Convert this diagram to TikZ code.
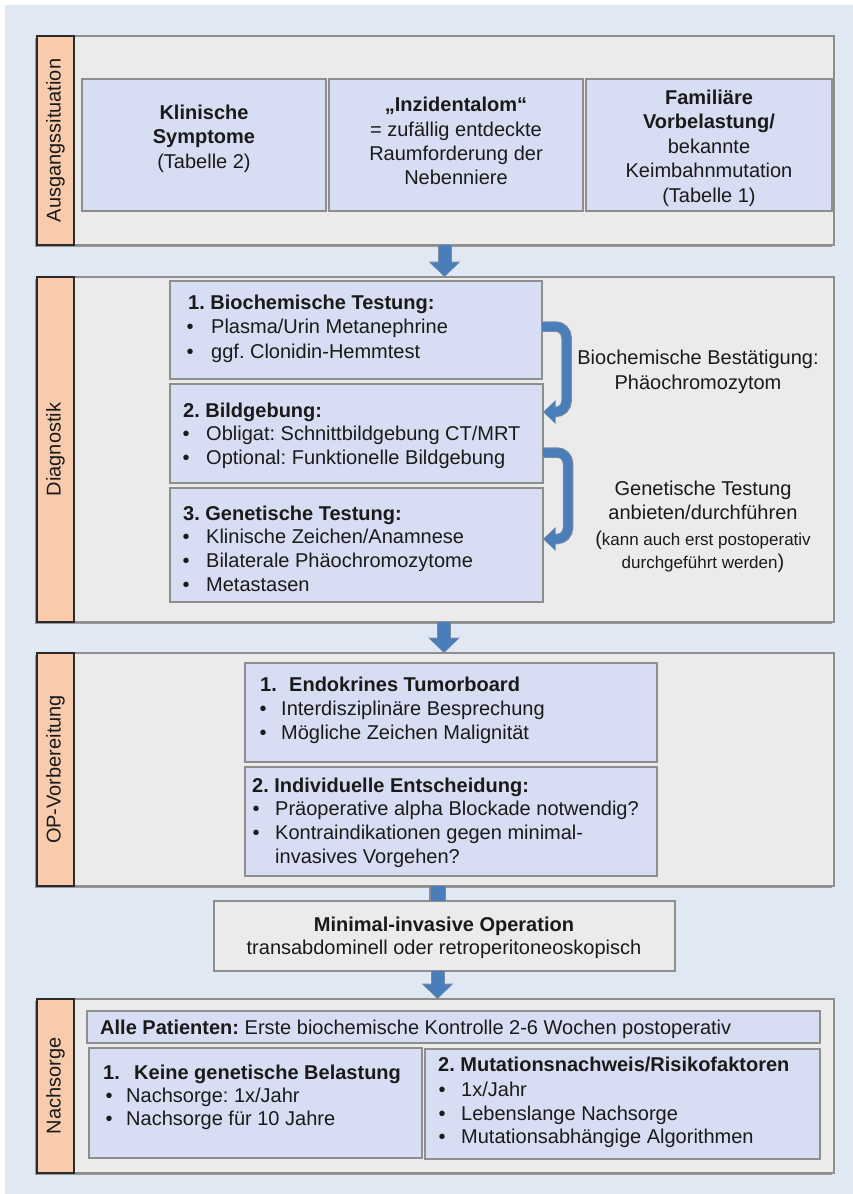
\documentclass[tikz,border=0pt]{standalone}
\usepackage{fontspec}
\setmainfont{Liberation Sans}
\usetikzlibrary{arrows.meta,calc}
\frenchspacing
\definecolor{bgblue}{HTML}{DFE8F3}
\definecolor{panelgray}{HTML}{EBEBEB}
\definecolor{panelline}{HTML}{8E8E8E}
\definecolor{shadowc}{HTML}{9A9A9A}
\definecolor{boxfill}{HTML}{D7DDF2}
\definecolor{stripfill}{HTML}{F8CBAD}
\definecolor{stripline}{HTML}{2A2A2A}
\definecolor{arrowblue}{HTML}{4A7EBB}
\definecolor{arrowedge}{HTML}{7A8CA3}
\definecolor{ink}{HTML}{1A1A1A}
\newcommand\shadedrect[6]{%
  \fill[shadowc] ({#3-2},{#4+2}) rectangle ({#5-2},{#6+2});
  \node[#2, anchor=north west, minimum width={#5-#3}, minimum height={#6-#4}] (#1) at (#3,#4) {};}
\newcommand\plainrect[6]{%
  \node[#2, anchor=north west, minimum width={#5-#3}, minimum height={#6-#4}] (#1) at (#3,#4) {};}
\newcommand\bitem[5]{%
  \node[bul] (#1b) at (#2,#4) {•};
  \node[txt] (#1) at (#3,#4) {#5};}
\begin{document}
\begin{tikzpicture}[x=1pt,y=-1pt,
  font=\fontsize{20}{24}\selectfont\frenchspacing, text=ink,
  panel/.style={fill=panelgray, draw=panelline, line width=1.3pt, inner sep=0, outer sep=0},
  strip/.style={fill=stripfill, draw=stripline, line width=1.3pt, inner sep=0, outer sep=0},
  bbox/.style={fill=boxfill, draw=panelline, line width=1.2pt, inner sep=0, outer sep=0},
  gbox/.style={fill=panelgray, draw=panelline, line width=1.2pt, inner sep=0, outer sep=0},
  txt/.style={anchor=base west, inner sep=0},
  ctxt/.style={anchor=base, inner sep=0},
  bul/.style={anchor=base, inner sep=0},
  lab/.style={rotate=90, inner sep=0},
  smalltxt/.style={anchor=base, inner sep=0, font=\fontsize{17}{20}\selectfont\frenchspacing},
  arrowunder/.style={draw=arrowedge, line width=14pt, -{Triangle[length=15.5pt,width=31pt]}},
  arrowtop/.style={draw=arrowblue, line width=12pt, shorten >=1pt, -{Triangle[length=13.5pt,width=28pt]}},
  curvunder/.style={draw=arrowedge, line width=10.5pt, rounded corners=11pt, -{Triangle[length=12.5pt,width=23pt]}},
  curvtop/.style={draw=arrowblue, line width=8.5pt, rounded corners=11pt, shorten >=1pt, -{Triangle[length=11pt,width=20.5pt]}},
  connunder/.style={draw=arrowedge, line width=16.5pt},
  conntop/.style={draw=arrowblue, line width=14pt}
]
\useasboundingbox (0,0) rectangle (853,1194);
\fill[bgblue] (5,5) rectangle (853,1194);

% ---------- Section 1 ----------
\shadedrect{P1}{panel}{37}{36}{834}{245}
\shadedrect{S1}{strip}{37}{36}{74}{245}
\node[lab] (L1) at (S1.center) {Ausgangssituation};
\plainrect{B11}{bbox}{82}{79}{326}{211}
\plainrect{B12}{bbox}{329}{79}{583}{211}
\plainrect{B13}{bbox}{586}{79}{832}{211}
\node[ctxt] (t11a) at (204,119) {\bfseries Klinische};
\node[ctxt] (t11b) at (204,143) {\bfseries Symptome};
\node[ctxt] (t11c) at (204,168) {(Tabelle 2)};
\node[ctxt] (t12a) at (456,111) {\bfseries „Inzidentalom“};
\node[ctxt] (t12b) at (456,136) {= zufällig entdeckte};
\node[ctxt] (t12c) at (456,160) {Raumforderung der};
\node[ctxt] (t12d) at (456,184) {Nebenniere};
\node[ctxt] (t13a) at (709,104) {\bfseries Familiäre};
\node[ctxt] (t13b) at (709,128) {\bfseries Vorbelastung/};
\node[ctxt] (t13c) at (709,153) {bekannte};
\node[ctxt] (t13d) at (709,177) {Keimbahnmutation};
\node[ctxt] (t13e) at (709,202) {(Tabelle 1)};

% ---------- Section 2 ----------
\shadedrect{P2}{panel}{37}{277}{834}{622}
\shadedrect{S2}{strip}{37}{277}{74}{622}
\node[lab] (L2) at (S2.center) {Diagnostik};
\plainrect{B21}{bbox}{170}{281}{542}{379}
\plainrect{B22}{bbox}{170}{384}{543}{483}
\plainrect{B23}{bbox}{170}{488}{543}{602}
\node[txt] (t21) at (188,309) {\bfseries 1. Biochemische Testung:};
\bitem{t21a}{190}{211}{333}{Plasma/Urin Metanephrine}
\bitem{t21b}{190}{211}{358}{ggf. Clonidin-Hemmtest}
\node[txt] (t22) at (183,417) {\bfseries 2. Bildgebung:};
\bitem{t22a}{186}{206}{440}{Obligat: Schnittbildgebung CT/MRT}
\bitem{t22b}{186}{206}{464}{Optional: Funktionelle Bildgebung}
\node[txt] (t23) at (183,520) {\bfseries 3. Genetische Testung:};
\bitem{t23a}{186}{206}{543}{Klinische Zeichen/Anamnese}
\bitem{t23b}{186}{206}{567}{Bilaterale Phäochromozytome}
\bitem{t23c}{186}{206}{591}{Metastasen}
\draw[curvunder] (B21.east |- 0,326.5) -- (566.5,326.5) -- (566.5,412) -- (B22.east |- 0,412);
\draw[curvtop] (B21.east |- 0,326.5) -- (566.5,326.5) -- (566.5,412) -- (B22.east |- 0,412);
\draw[curvunder] (B22.east |- 0,452.5) -- (568,452.5) -- (568,539) -- (B23.east |- 0,539);
\draw[curvtop] (B22.east |- 0,452.5) -- (568,452.5) -- (568,539) -- (B23.east |- 0,539);
\node[ctxt] (r1a) at (698,364) {Biochemische Bestätigung:};
\node[ctxt] (r1b) at (698,389) {Phäochromozytom};
\node[ctxt] (r2a) at (703,495) {Genetische Testung};
\node[ctxt] (r2b) at (703,519) {anbieten/durchführen};
\node[smalltxt] (r2c) at (703,545) {{\fontsize{20}{24}\selectfont(}kann auch erst postoperativ};
\node[smalltxt] (r2d) at (703,568) {durchgeführt werden{\fontsize{20}{24}\selectfont)}};

% ---------- Section 3 ----------
\shadedrect{P3}{panel}{37}{653}{834}{886}
\shadedrect{S3}{strip}{37}{653}{74}{886}
\node[lab] (L3) at (S3.center) {OP-Vorbereitung};
\plainrect{B31}{bbox}{245}{663}{657}{762}
\plainrect{B32}{bbox}{245}{767}{657}{876}
\node[txt] (t31) at (260,691) {\bfseries\makebox[29pt][l]{1.}Endokrines Tumorboard};
\bitem{t31a}{263}{281}{715}{Interdisziplinäre Besprechung}
\bitem{t31b}{263}{281}{739}{Mögliche Zeichen Malignität}
\node[txt] (t32) at (252,792) {\bfseries 2. Individuelle Entscheidung:};
\bitem{t32a}{256}{275}{815}{Präoperative alpha Blockade notwendig?}
\bitem{t32b}{256}{275}{839}{Kontraindikationen gegen minimal-}
\node[txt] (t32c) at (275,863) {invasives Vorgehen?};

% ---------- Operation ----------
\plainrect{OPB}{gbox}{214}{901}{675}{971}
\node[ctxt] (op1) at (444,931) {\bfseries Minimal-invasive Operation};
\node[ctxt] (op2) at (444,954) {transabdominell oder retroperitoneoskopisch};

% ---------- Section 4 ----------
\shadedrect{P4}{panel}{37}{999}{834}{1173}
\shadedrect{S4}{strip}{37}{999}{74}{1173}
\node[lab] (L4) at (S4.center) {Nachsorge};
\plainrect{B40}{bbox}{87}{1011}{820}{1043}
\plainrect{B41}{bbox}{89}{1048}{422}{1158}
\plainrect{B42}{bbox}{425}{1049}{820}{1159}
\node[txt] (t40) at (100,1034) {{\bfseries Alle Patienten:} Erste biochemische Kontrolle 2-6 Wochen postoperativ};
\node[txt] (t41) at (103,1079) {\bfseries\makebox[31pt][l]{1.}Keine genetische Belastung};
\bitem{t41a}{109}{126}{1102}{Nachsorge: 1x/Jahr}
\bitem{t41b}{109}{126}{1125}{Nachsorge für 10 Jahre}
\node[txt] (t42) at (438,1071) {\bfseries 2. Mutationsnachweis/Risikofaktoren};
\bitem{t42a}{442}{461}{1096}{1x/Jahr}
\bitem{t42b}{442}{461}{1120}{Lebenslange Nachsorge}
\bitem{t42c}{442}{461}{1143}{Mutationsabhängige Algorithmen}

% ---------- Connectors ----------
\draw[arrowunder] (444.5,0 |- P1.south) -- (444.5,0 |- P2.north);
\draw[arrowtop] (444.5,0 |- P1.south) -- (444.5,0 |- P2.north);
\draw[arrowunder] (444,0 |- P2.south) -- (444,0 |- P3.north);
\draw[arrowtop] (444,0 |- P2.south) -- (444,0 |- P3.north);
\draw[connunder] (437.5,0 |- P3.south) -- (437.5,0 |- OPB.north);
\draw[conntop] (437.5,0 |- P3.south) -- (437.5,0 |- OPB.north);
\draw[arrowunder] (437.5,0 |- OPB.south) -- (437.5,0 |- P4.north);
\draw[arrowtop] (437.5,0 |- OPB.south) -- (437.5,0 |- P4.north);
\end{tikzpicture}
\end{document}
